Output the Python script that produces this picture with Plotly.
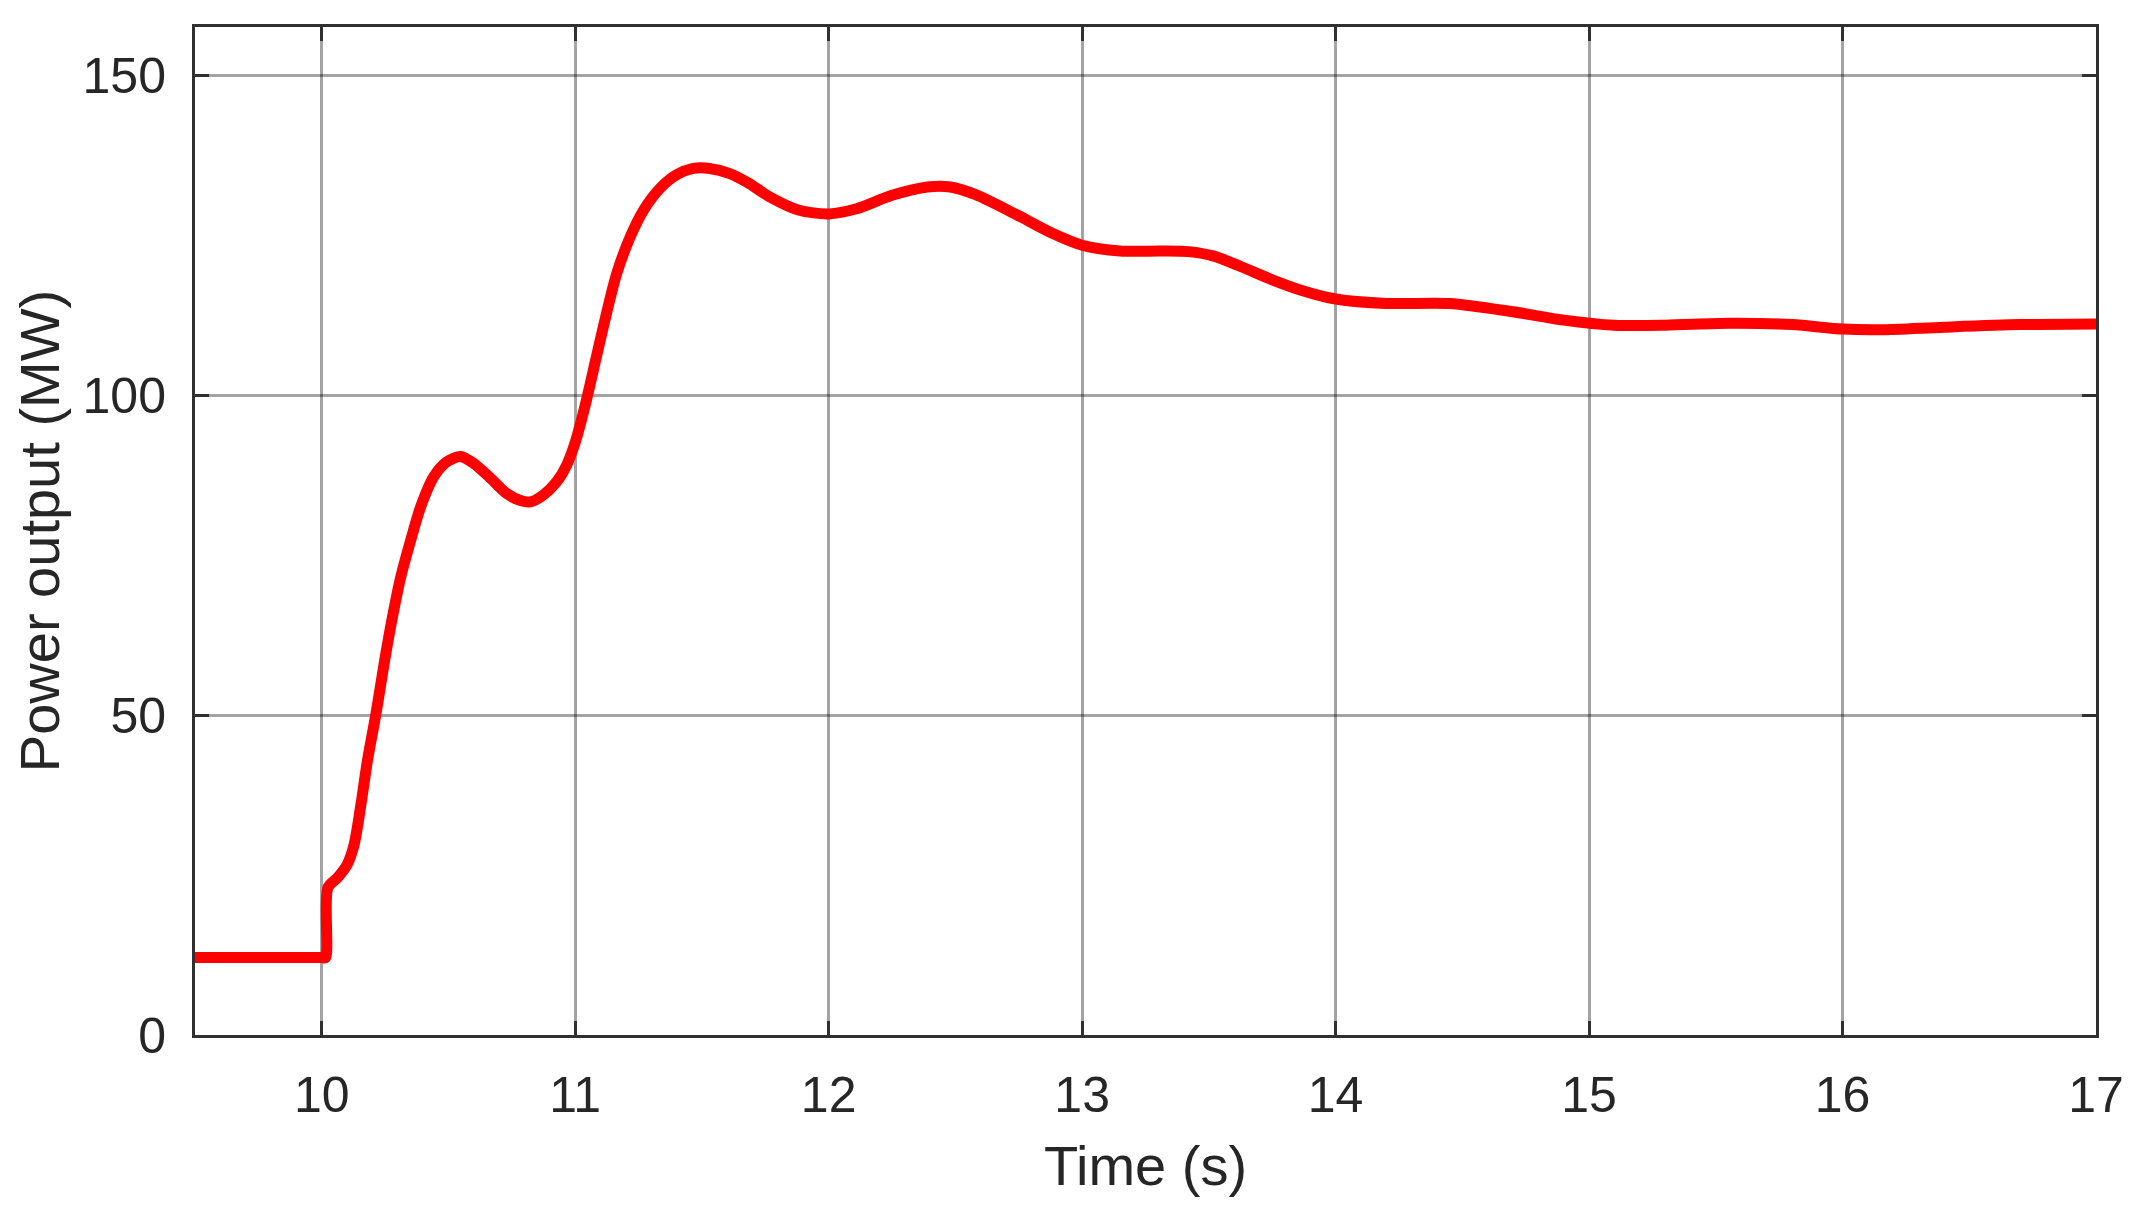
import plotly.graph_objects as go

time_s = [9.5, 10.0, 10.015, 10.024, 10.063, 10.10, 10.128, 10.155, 10.18, 10.214, 10.246,
          10.279, 10.312, 10.351, 10.39, 10.443, 10.495, 10.548, 10.6, 10.666, 10.73,
          10.784, 10.823, 10.875, 10.928, 10.967, 11.0, 11.04, 11.085, 11.125,
          11.164, 11.217, 11.27, 11.335, 11.4, 11.466, 11.53, 11.61, 11.68, 11.77, 11.88,
          12.0, 12.11, 12.25, 12.39, 12.48, 12.58, 12.74, 12.88, 13.0, 13.15, 13.31,
          13.42, 13.52, 13.63, 13.75, 13.87, 14.0, 14.2, 14.45, 14.7, 14.9, 15.1, 15.3,
          15.55, 15.8, 16.0, 16.15, 16.4, 16.7, 17.0]
power_mw = [12.1, 12.1, 12.1, 23.0, 24.6, 26.6, 29.8, 36.1, 42.8, 50.2, 58.0,
            65.3, 71.6, 77.3, 82.5, 87.3, 89.6, 90.4, 89.3, 87.0, 84.6,
            83.5, 83.3, 84.4, 86.5, 89.1, 92.6, 98.5, 106.2, 113.0,
            119.0, 124.7, 128.9, 132.3, 134.4, 135.4, 135.4, 134.6, 133.2, 130.9, 128.9,
            128.3, 129.1, 131.2, 132.5, 132.5, 131.3, 128.2, 125.3, 123.4, 122.5, 122.5,
            122.4, 121.7, 120.0, 118.0, 116.3, 115.0, 114.3, 114.3, 113.0, 111.7, 110.9, 110.9,
            111.2, 111.0, 110.3, 110.2, 110.6, 111.0, 111.1]

x_ticks = [10, 11, 12, 13, 14, 15, 16, 17]
y_ticks = [0, 50, 100, 150]

font_family = "Liberation Sans, Arial, sans-serif"
text_color = "#262626"

fig = go.Figure()
fig.add_trace(go.Scatter(
    x=time_s, y=power_mw, mode="lines",
    line=dict(color="#ff0000", width=11, shape="spline", smoothing=0.8),
    showlegend=False,
))

axis_common = dict(
    showline=True, linecolor="#303030", linewidth=3, mirror="ticks",
    ticks="inside", ticklen=14, tickwidth=3, tickcolor="#303030",
    showgrid=True, gridcolor="rgba(0,0,0,0.36)", gridwidth=3,
    zeroline=False,
    tickfont=dict(family=font_family, size=50, color=text_color),
)

fig.update_layout(
    width=2139, height=1215,
    margin=dict(l=187, r=51, t=19, b=188),
    paper_bgcolor="white", plot_bgcolor="white",
    font=dict(family=font_family, color=text_color),
    xaxis=dict(
        range=[9.5, 17], tickvals=x_ticks, ticktext=[str(v) for v in x_ticks],
        title=dict(text="Time (s)", font=dict(family=font_family, size=56, color=text_color), standoff=24),
        ticklabelstandoff=14,
        automargin=False,
        **axis_common,
    ),
    yaxis=dict(
        range=[0, 157.5], tickvals=y_ticks, ticktext=[str(v) for v in y_ticks],
        title=dict(text="Power output (MW)", font=dict(family=font_family, size=56, color=text_color), standoff=14),
        ticklabelstandoff=16,
        automargin=False,
        **axis_common,
    ),
)

fig.write_html("out.html")
